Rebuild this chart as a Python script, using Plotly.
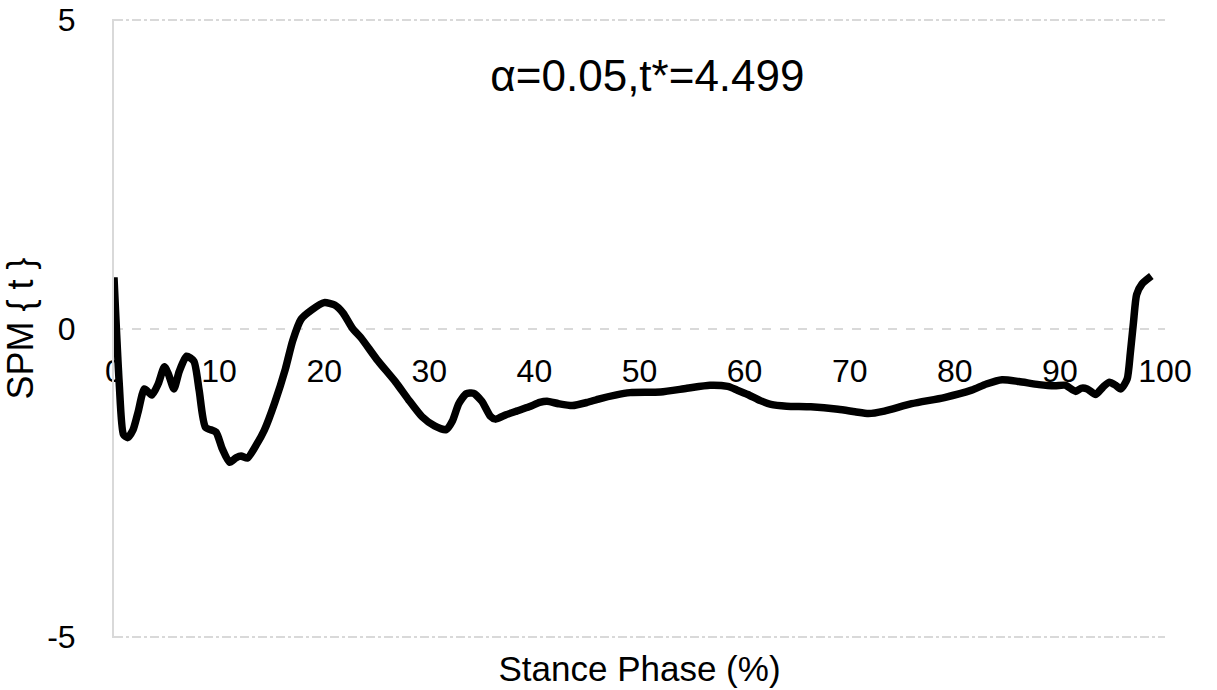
import plotly.graph_objects as go

# SPM{t} trajectory over the stance phase
stance_pct = [0, 0.5, 0.9, 1.3, 1.8, 2.3, 2.9, 3.6, 4.2, 4.8, 5.2, 5.7, 6.2, 6.9, 7.6,
              8.1, 8.7, 9.7, 10.3, 11.0, 11.6, 12.1, 12.7, 13.5, 14.3, 15.3, 16.3, 17.0,
              17.8, 18.8, 20.0, 21.0, 21.8, 22.7, 23.5, 25.0, 26.8, 28.0, 29.3, 30.5,
              31.6, 32.2, 32.8, 33.5, 34.2, 35.0, 35.8, 36.3, 37.3, 38.3, 39.5, 40.5,
              41.2, 42.3, 43.6, 45.0, 46.2, 47.7, 49.1, 52.0, 54.5, 56.7, 58.4, 59.3,
              60.3, 61.5, 62.5, 64.0, 66.3, 68.9, 70.5, 71.8, 73.3, 75.9, 79.0, 81.6,
              83.0, 84.5, 86.1, 88.0, 89.5, 90.5, 91.5, 92.0, 92.6, 93.4, 94.1, 94.7,
              95.3, 95.8, 96.4, 96.7, 97.0, 97.3, 97.8, 98.7]
spm_t = [0.83, -0.9, -1.72, -1.77, -1.65, -1.35, -0.98, -1.08, -0.9, -0.62, -0.75, -0.98,
         -0.7, -0.45, -0.53, -1.0, -1.6, -1.68, -1.95, -2.17, -2.1, -2.07, -2.1, -1.9,
         -1.65, -1.2, -0.66, -0.2, 0.15, 0.3, 0.42, 0.38, 0.25, 0.0, -0.15, -0.5, -0.87,
         -1.15, -1.43, -1.58, -1.64, -1.5, -1.22, -1.06, -1.05, -1.18, -1.42, -1.47,
         -1.4, -1.34, -1.27, -1.2, -1.18, -1.22, -1.25, -1.2, -1.14, -1.08, -1.04,
         -1.03, -0.97, -0.92, -0.94, -1.0, -1.07, -1.17, -1.23, -1.26, -1.27, -1.31,
         -1.35, -1.38, -1.34, -1.22, -1.12, -1.0, -0.9, -0.83, -0.86, -0.91, -0.93,
         -0.92, -1.02, -0.97, -0.98, -1.07, -0.95, -0.87, -0.92, -0.98, -0.82, -0.4,
         0.1, 0.55, 0.72, 0.85]

x_ticks = [0, 10, 20, 30, 40, 50, 60, 70, 80, 90, 100]
y_ticks = [-5, 0, 5]
y_tick_text = ["-5", "0", "5"]
y_limits = [-5, 5]
title_text = "α=0.05,t*=4.499"

FONT = "Liberation Sans, Arial, sans-serif"
GRID = "#d9d9d9"
# small pad so the gridlines at the range limits are still drawn
pad = 0.02
y_view = [y_limits[0] - pad, y_limits[1] + pad]

fig = go.Figure()
fig.add_trace(go.Scatter(
    x=stance_pct, y=spm_t, mode="lines",
    line=dict(color="black", width=7.5, shape="spline", smoothing=0.6),
    showlegend=False, hoverinfo="skip",
))

fig.update_layout(
    width=1217, height=690,
    margin=dict(l=114, r=52, t=19, b=52, autoexpand=False),
    paper_bgcolor="white", plot_bgcolor="white",
    font=dict(family=FONT, size=32, color="black"),
    title=dict(text=title_text, x=0.532, y=0.89, xanchor="center", yanchor="middle",
               font=dict(size=44, family=FONT)),
    # tick labels sit beside the zero line
    xaxis=dict(range=[0, 100], tickvals=x_ticks, anchor="free", position=0.5,
               showline=False, showgrid=False, zeroline=False, ticks="",
               ticklabelstandoff=20, layer="below traces", automargin=False),
    # bottom axis carries only the title
    xaxis2=dict(range=[0, 100], overlaying="x", anchor="y", side="bottom",
                showticklabels=False, showline=False, showgrid=False, zeroline=False,
                ticks="", automargin=False,
                title=dict(text="Stance Phase (%)", font=dict(size=35), standoff=18)),
    yaxis=dict(range=y_view, tickvals=y_ticks, ticktext=y_tick_text,
               showgrid=False, zeroline=False,
               showline=True, linecolor=GRID, linewidth=2, ticks="",
               ticklabelstandoff=30, automargin=False,
               title=dict(text="SPM { t }", font=dict(size=36), standoff=12)),
    yaxis2=dict(range=y_view, overlaying="y", tickvals=[y_limits[0], y_limits[1]],
                showticklabels=False, showgrid=True, gridcolor=GRID, gridwidth=1.5,
                griddash="dashdot", zeroline=False, ticks="", automargin=False),
    yaxis3=dict(range=y_view, overlaying="y", tickvals=[0],
                showticklabels=False, showgrid=True, gridcolor=GRID, gridwidth=1.5,
                griddash="dash", zeroline=False, ticks="", automargin=False),
)

# empty traces so the overlay axes are drawn
fig.add_trace(go.Scatter(x=[None], y=[None], xaxis="x2", yaxis="y", showlegend=False))
fig.add_trace(go.Scatter(x=[None], y=[None], xaxis="x", yaxis="y2", showlegend=False))
fig.add_trace(go.Scatter(x=[None], y=[None], xaxis="x", yaxis="y3", showlegend=False))

fig.write_html("out.html")
